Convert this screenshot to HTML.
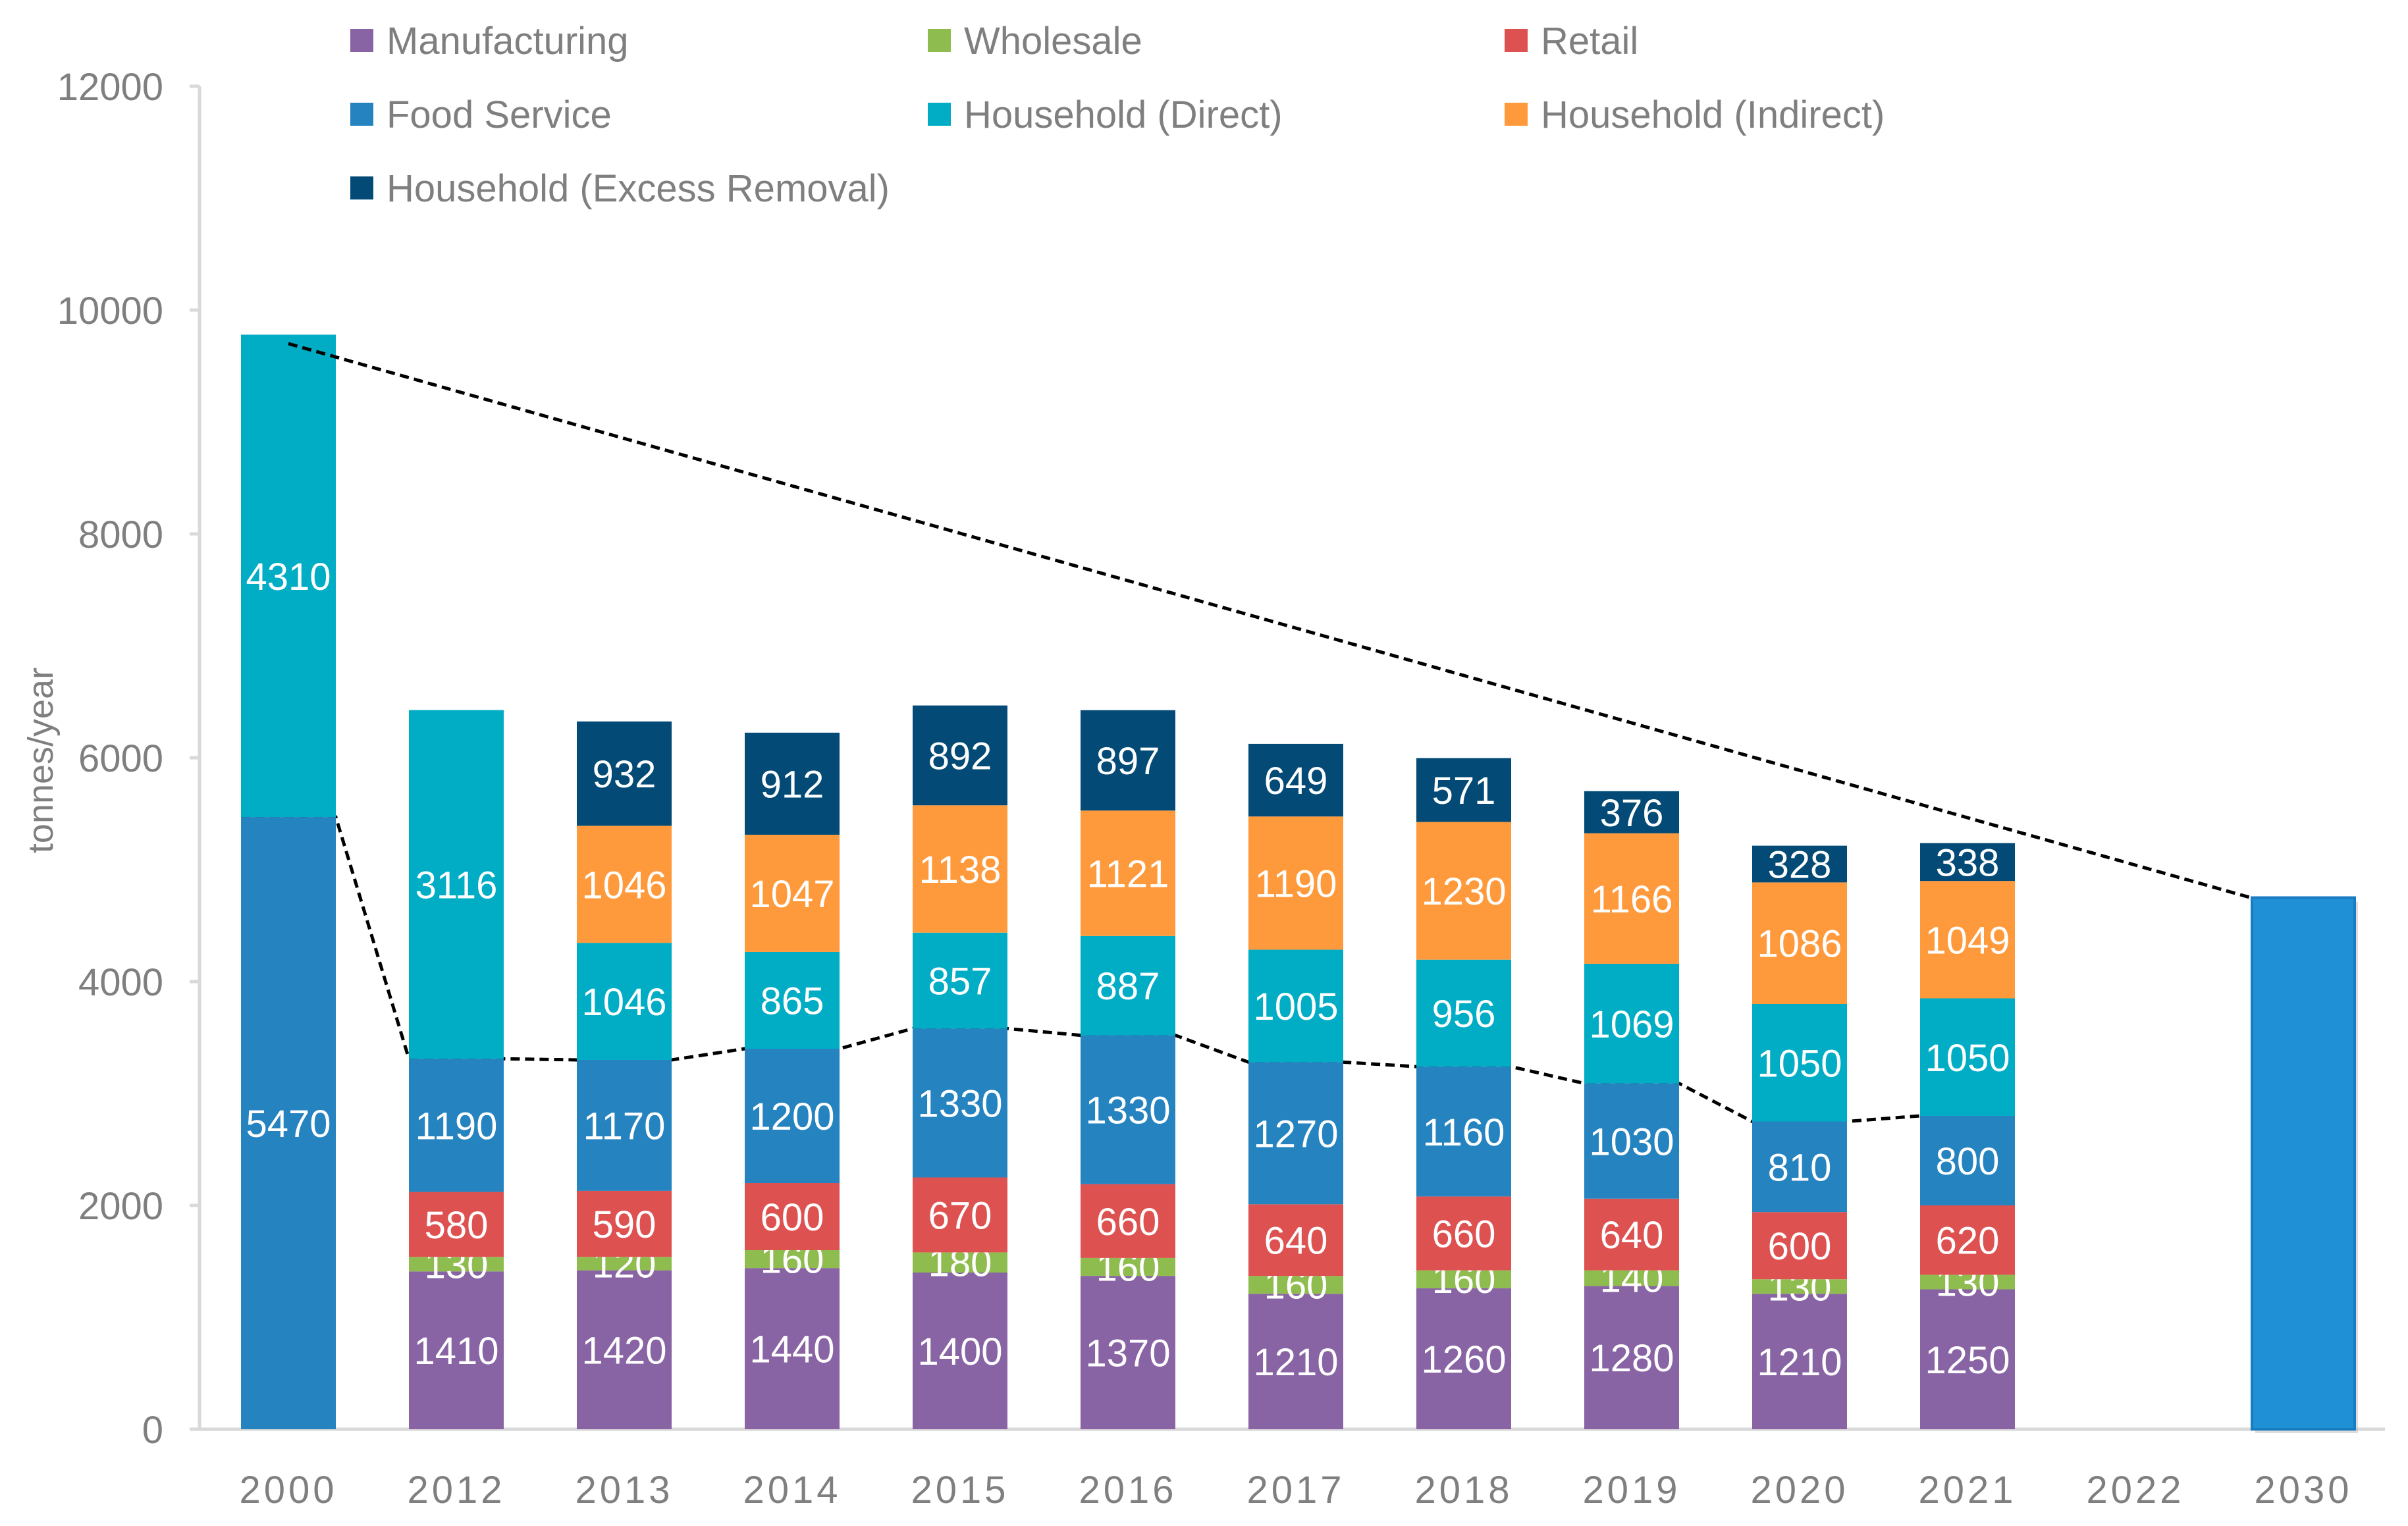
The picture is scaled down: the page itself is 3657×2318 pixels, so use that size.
<!DOCTYPE html>
<html><head><meta charset="utf-8"><style>
html,body{margin:0;padding:0;background:#fff;}
svg{display:block;font-family:"Liberation Sans",sans-serif;}
</style></head><body>
<svg id="chart" width="3657" height="2318" viewBox="0 0 3657 2318"></svg>
<script>
const categories=["2000","2012","2013","2014","2015","2016","2017","2018","2019","2020","2021","2022","2030"];
const seriesNames=["Manufacturing","Wholesale","Retail","Food Service","Household (Direct)","Household (Indirect)","Household (Excess Removal)"];
const seriesColors=["#8964a4","#8fbc4f","#de5151","#2583c0","#00adc5","#ff9a3c","#034b76"];
const manufacturing=[0,1410,1420,1440,1400,1370,1210,1260,1280,1210,1250,0,0];
const wholesale=[0,130,120,160,180,160,160,160,140,130,130,0,0];
const retail=[0,580,590,600,670,660,640,660,640,600,620,0,0];
const foodService=[5470,1190,1170,1200,1330,1330,1270,1160,1030,810,800,0,0];
const hhDirect=[4310,3116,1046,865,857,887,1005,956,1069,1050,1050,0,0];
const hhIndirect=[0,0,1046,1047,1138,1121,1190,1230,1166,1086,1049,0,0];
const hhExcess=[0,0,932,912,892,897,649,571,376,328,338,0,0];
const target2030=[0,0,0,0,0,0,0,0,0,0,0,0,4750];
const trendStartEnd=[9700,4617];
const yTicks=[0,2000,4000,6000,8000,10000,12000];

const svg=document.getElementById('chart');
const NS='http://www.w3.org/2000/svg';
const X0=303,X1=3622,Y0=2171,Y1=131,YMAX=12000;
const band=255, firstCenter=438, barW=144;
function yScale(v){return Y0-(v/YMAX)*(Y0-Y1);}
function xCenter(i){return firstCenter+i*band;}
function mk(tag,attrs,parent){const e=document.createElementNS(NS,tag);for(const k in attrs)e.setAttribute(k,attrs[k]);(parent||svg).appendChild(e);return e;}

const axisG=mk('g',{});


mk('line',{x1:X0,y1:Y1,x2:X0,y2:Y0,stroke:'#d9d9d9','stroke-width':5},axisG);
mk('line',{x1:288,y1:Y0,x2:X1,y2:Y0,stroke:'#d9d9d9','stroke-width':5},axisG);
yTicks.forEach(t=>{
  const y=yScale(t);
  mk('line',{x1:288,y1:y,x2:X0,y2:y,stroke:'#d9d9d9','stroke-width':5},axisG);
  const tx=mk('text',{x:248,y:y+21,'text-anchor':'end','font-size':58,fill:'#7f7f7f'},axisG);
  tx.textContent=t;
  
  
});
categories.forEach((c,i)=>{
  const tx=mk('text',{x:xCenter(i),y:2283,'text-anchor':'middle','font-size':58,fill:'#7f7f7f','letter-spacing':5},axisG);
  tx.textContent=c;
  
  
});
const yt=mk('text',{x:0,y:0,'text-anchor':'middle','font-size':54,fill:'#7f7f7f',transform:'translate(80,1155) rotate(-90)'});
yt.textContent='tonnes/year';



const lowerTotals=categories.map((c,i)=>manufacturing[i]+wholesale[i]+retail[i]+foodService[i]);
let pts=[];
for(let i=0;i<=10;i++){
  const v=lowerTotals[i],y=yScale(v);
  pts.push((xCenter(i)-barW/2)+','+y,(xCenter(i)+barW/2)+','+y);
}
const ll=mk('polyline',{points:pts.join(' '),fill:'none',stroke:'#000','stroke-width':5,'stroke-dasharray':'14,8'});



const series=[manufacturing,wholesale,retail,foodService,hhDirect,hhIndirect,hhExcess];
categories.forEach((c,i)=>{
  let base=0;
  series.forEach((s,k)=>{
    const v=s[i]; if(!v) return;
    const yTop=yScale(base+v), yBot=yScale(base);
    const r=mk('rect',{x:xCenter(i)-barW/2,y:yTop,width:barW,height:yBot-yTop,fill:seriesColors[k]});
    
    
    const t=mk('text',{x:xCenter(i),y:(yTop+yBot)/2+21,'text-anchor':'middle','font-size':58,fill:'#fff'});
    t.textContent=v;
    
    
    base+=v;
  });
});

const ul=mk('line',{x1:xCenter(0),y1:yScale(trendStartEnd[0]),x2:xCenter(12),y2:yScale(trendStartEnd[1]),stroke:'#000','stroke-width':5,'stroke-dasharray':'14,8'});



target2030.forEach((v,i)=>{
  if(!v) return;
  const w=156,yTop=yScale(v);
  const sh=mk('rect',{x:xCenter(i)-w/2+5,y:yTop+6,width:w,height:Y0-yTop,fill:'#bbb',opacity:0.5});
  
  
  const r=mk('rect',{x:xCenter(i)-w/2,y:yTop,width:w,height:Y0-yTop,fill:'#1f8fd6',stroke:'#1a7cc0','stroke-width':4});
  
  
});

const legX=[532,1409,2285],legY=[61,173,285];
seriesNames.forEach((n,k)=>{
  const g=mk('g',{});
  
  
  const cx=legX[k%3],cy=legY[Math.floor(k/3)];
  mk('rect',{x:cx,y:cy-17,width:35,height:35,fill:seriesColors[k]},g);
  const t=mk('text',{x:cx+55,y:cy+21,'font-size':58,fill:'#7f7f7f'},g);
  t.textContent=n;
});
</script>
</body></html>
